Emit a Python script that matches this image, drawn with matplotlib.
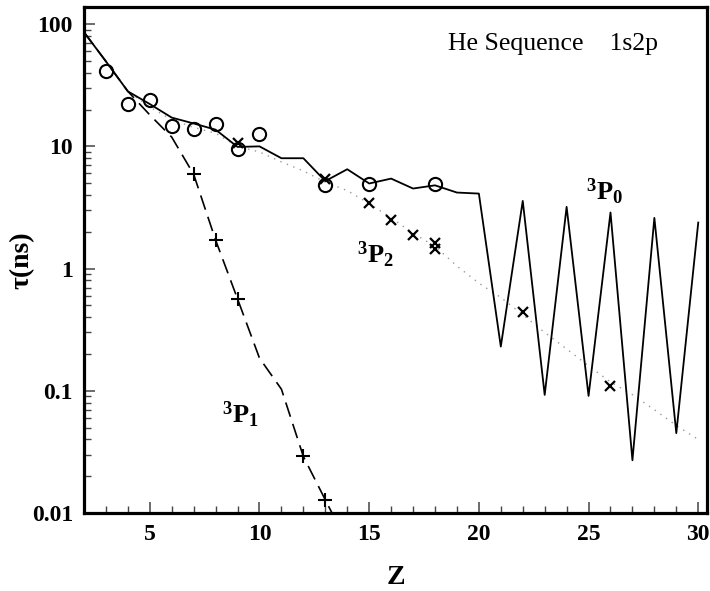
import numpy as np
import matplotlib
matplotlib.use('Agg')
import matplotlib.pyplot as plt
import matplotlib.ticker as mticker

plt.rcParams['font.family'] = ['Liberation Serif', 'DejaVu Serif']
plt.rcParams['mathtext.default'] = 'regular'

# theory curves, one value per Z
Z_theory = list(range(2, 31))
tau_3P0 = [86, 49.6, 28.2, 22.2, 17.2, 15.4, 13.7, 9.9, 10.0, 8.0, 8.0, 5.2, 6.5, 4.97,
           5.45, 4.52, 4.8, 4.19, 4.11, 0.23, 3.58, 0.0925, 3.2, 0.0908, 2.88, 0.027,
           2.6, 0.045, 2.38]
tau_3P2 = [86, 49.6, 28.2, 21.0, 16.5, 14.3, 12.8, 10.0, 9.0, 7.46, 6.3, 5.1, 4.35, 3.4,
           2.6, 1.95, 1.52, 1.05, 0.76, 0.58, 0.42, 0.30, 0.22, 0.16, 0.118, 0.093,
           0.070, 0.052, 0.040]
Z_3P1 = [2, 3, 4, 5, 6, 7, 8, 9, 10, 11, 12, 13, 14]
tau_3P1 = [86, 49.6, 28.2, 18.1, 11.9, 5.9, 1.71, 0.564, 0.185, 0.103, 0.029, 0.0128, 0.0057]

# measurements
Z_circ = [3, 4, 5, 6, 7, 8, 9, 10, 13, 15, 18]
tau_circ = [41.1, 22.4, 24.1, 14.6, 13.8, 15.2, 9.6, 12.6, 4.81, 4.88, 4.9]
Z_cross = [9, 13, 15, 16, 17, 18, 18, 22, 26]
tau_cross = [10.7, 5.38, 3.41, 2.52, 1.88, 1.61, 1.46, 0.44, 0.110]
Z_plus = [7, 8, 9, 12, 13]
tau_plus = [5.92, 1.71, 0.564, 0.029, 0.0128]

fig = plt.figure(figsize=(7.1, 5.91), dpi=100)
ax = fig.add_axes([0.1183, 0.132, 0.8775, 0.856])

ax.plot(Z_theory, tau_3P2, color='#999999', linewidth=1.0, linestyle=(0, (1, 4)))
ax.plot(Z_3P1, tau_3P1, color='black', linewidth=1.2, linestyle=(0, (9, 4.5)))
ax.plot(Z_theory, tau_3P0, color='black', linewidth=1.3)

ax.plot(Z_circ, tau_circ, 'o', mfc='none', mec='black', mew=1.5, ms=9.5)
ax.plot(Z_cross, tau_cross, 'x', color='black', mew=1.6, ms=7.5)
ax.plot(Z_plus, tau_plus, '+', color='black', mew=1.5, ms=9.5)

ax.set_yscale('log')
ax.set_xlim(2, 30.4)
ax.set_ylim(0.01, 138)

ax.set_yticks([0.01, 0.1, 1, 10, 100])
ax.set_yticklabels(['0.01', '0.1', '1', '10', '100'])
ax.yaxis.set_minor_locator(mticker.LogLocator(base=10, subs=np.arange(2, 10)))
ax.yaxis.set_minor_formatter(mticker.NullFormatter())
ax.set_xticks([5, 10, 15, 20, 25, 30])
ax.xaxis.set_minor_locator(mticker.MultipleLocator(1))

ax.tick_params(which='both', direction='in', top=False, right=False, color='#444444')
ax.tick_params(which='major', length=8, width=1.1, pad=8, labelsize=17)
ax.tick_params(which='minor', length=5, width=1.0)
for lab in ax.get_xticklabels() + ax.get_yticklabels():
    lab.set_fontweight('bold')

for s in ax.spines.values():
    s.set_linewidth(2.3)

ax.set_xlabel('Z', fontsize=20, fontweight='bold', labelpad=14)
ax.set_ylabel('τ(ns)', fontsize=20, fontweight='bold', va='center')
ax.yaxis.set_label_coords(-0.1, 0.5)

ax.text(0.584, 0.927, 'He Sequence    1s2p', transform=ax.transAxes,
        fontsize=18.5, va='center', ha='left')
ax.text(25.74, 4.23, '$^3$P$_0$', fontsize=19, fontweight='bold', ha='center', va='center')
ax.text(15.29, 1.29, '$^3$P$_2$', fontsize=19, fontweight='bold', ha='center', va='center')
ax.text(9.12, 0.0635, '$^3$P$_1$', fontsize=19, fontweight='bold', ha='center', va='center')

fig.savefig('out.png', dpi=100)
